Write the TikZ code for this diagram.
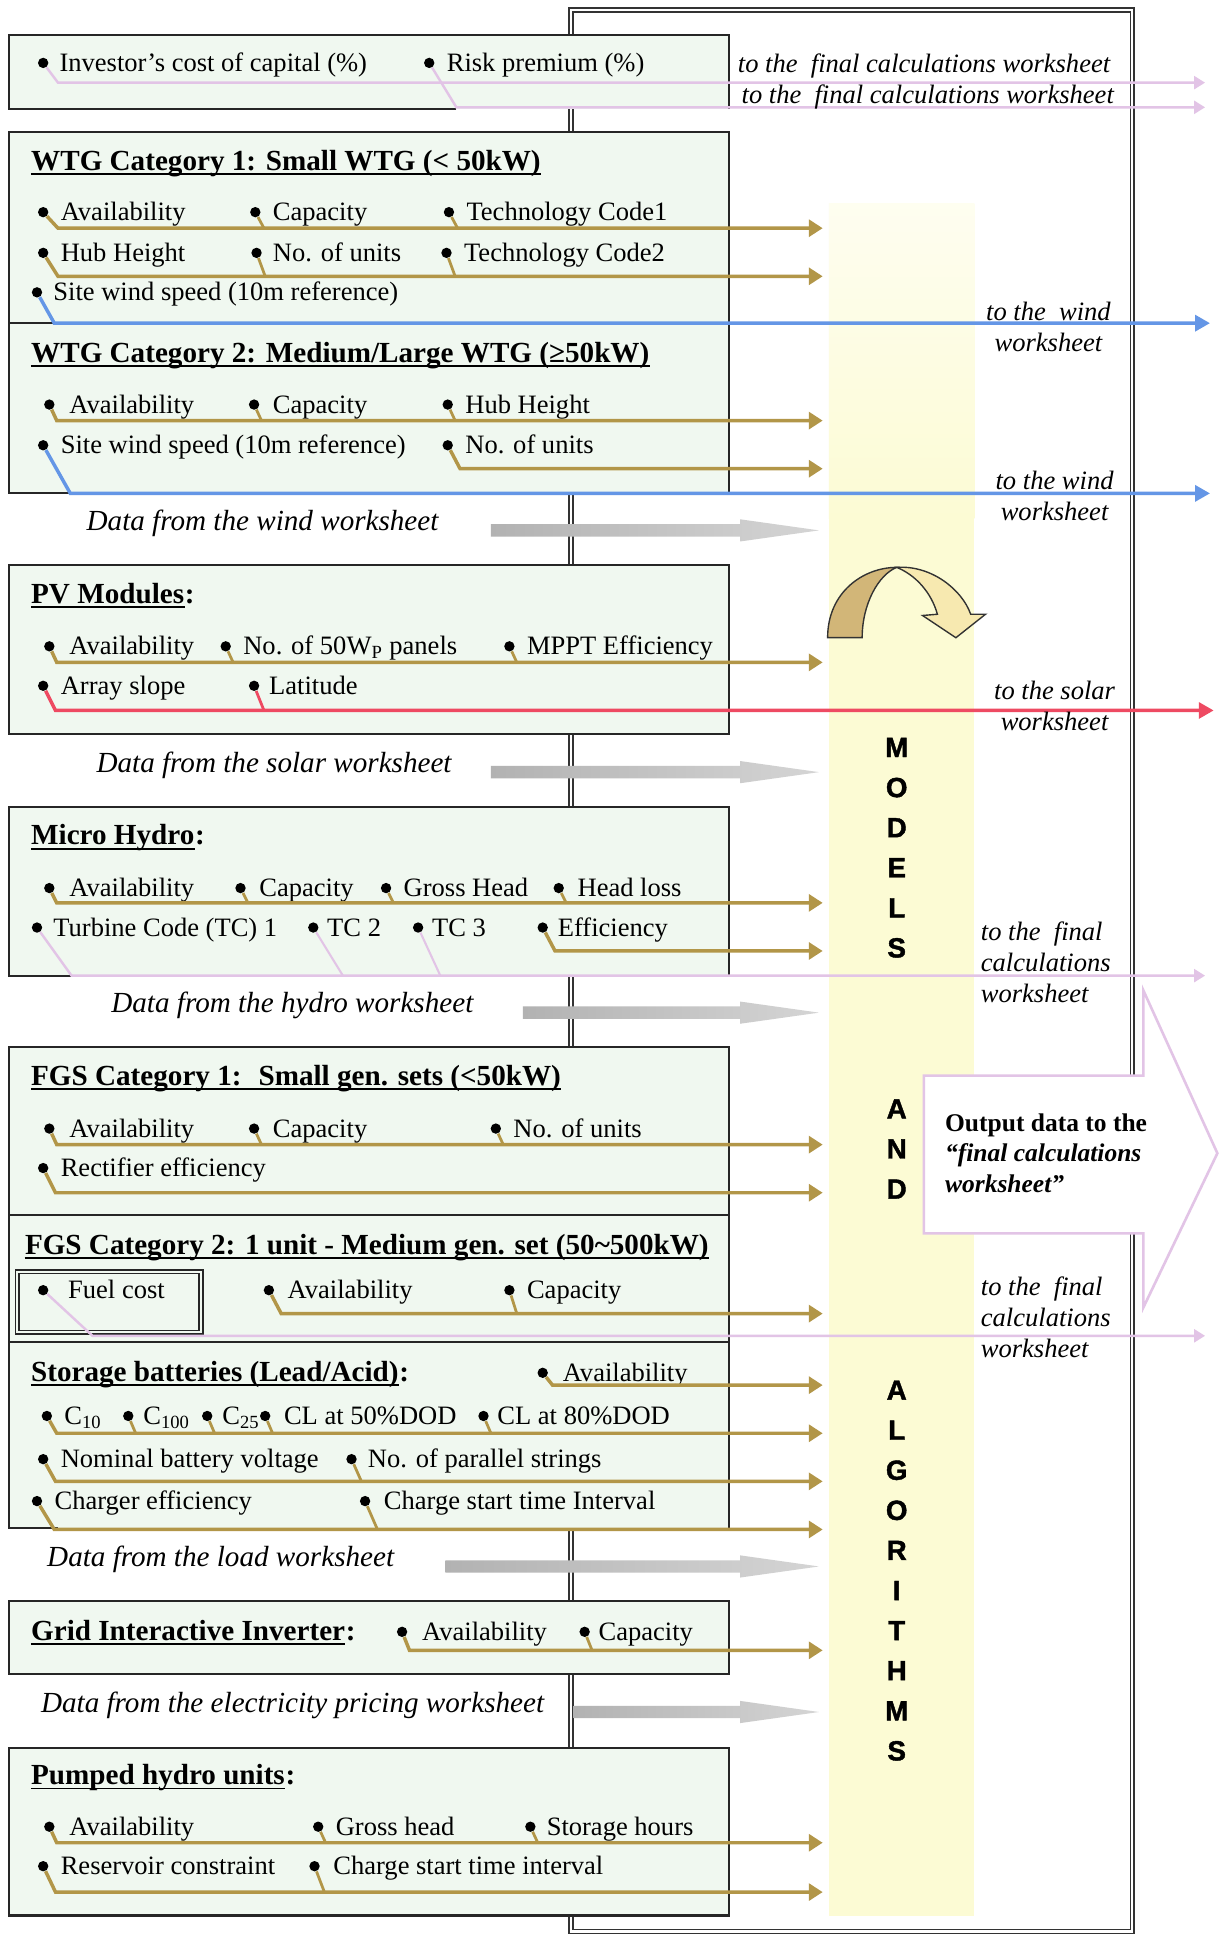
\documentclass[tikz,border=0pt]{standalone}
\usepackage{fontspec}
\setmainfont{Liberation Serif}
\newfontfamily\blockfont[FakeBold=1.5]{Liberation Sans}
\usetikzlibrary{arrows.meta,calc,positioning}

\definecolor{panelfill}{RGB}{240,248,240}
\definecolor{feedgold}{RGB}{178,150,72}
\definecolor{windblue}{RGB}{100,150,230}
\definecolor{solarred}{RGB}{238,74,98}
\definecolor{finalpink}{RGB}{226,196,230}
\definecolor{modelband}{RGB}{252,251,212}
\definecolor{arrowgrey}{RGB}{178,178,178}
\definecolor{uturnback}{RGB}{210,182,120}
\definecolor{uturnfront}{RGB}{247,233,176}

\tikzset{
    panelline/.style={draw=black!85, line width=1.2pt},
    frameline/.style={draw=black!80, line width=0.9pt, double=white, double distance=1.3pt},
    fuelbox/.style={draw=black!85, line width=0.9pt, double=panelfill, double distance=1.2pt},
    bulletdot/.style={circle, fill=black, inner sep=0pt, minimum size=2.1mm},
    itemtext/.style={anchor=base west, inner sep=0pt, font=\fontsize{15.3}{18}\selectfont},
    titletext/.style={anchor=base west, inner sep=0pt, font=\fontsize{16.8}{20}\selectfont\bfseries},
    sourcetext/.style={anchor=base west, inner sep=0pt, font=\fontsize{16.8}{20}\selectfont\itshape},
    targettext/.style={inner sep=0pt, align=center, font=\fontsize{15.3}{17.8}\selectfont\itshape},
    outtext/.style={anchor=west, inner sep=0pt, align=left, font=\fontsize{14.7}{17.8}\selectfont\bfseries},
    bandletter/.style={inner sep=0pt, font=\blockfont\bfseries\fontsize{16}{16}\selectfont},
    goldfeed/.style={draw=feedgold, line width=2pt, -{Triangle[length=2.8mm,width=3.4mm]}},
    goldlead/.style={draw=feedgold, line width=1.6pt},
    bluefeed/.style={draw=windblue, line width=2pt, -{Triangle[length=3mm,width=3.2mm]}},
    redfeed/.style={draw=solarred, line width=2pt, -{Triangle[length=3mm,width=3.2mm]}},
    redlead/.style={draw=solarred, line width=1.6pt},
    pinkfeed/.style={draw=finalpink, line width=1.4pt, -{Triangle[length=2.2mm,width=2.6mm]}},
    pinklead/.style={draw=finalpink, line width=1.2pt},
}

% bullet plus its label: name, bullet x, text x, y, text
\newcommand\DATAITEM[5]{
    \pgfmathsetmacro{\ybase}{#4+7}
    \node[bulletdot] (#1) at (#2,#4) {};
    \node[itemtext] (#1_text) at (#3,\ybase) {#5};
}

% underlined panel heading, with an optional tail that is not underlined
\newcommand\PANELTITLE[5]{
    \pgfmathsetmacro{\ybase}{#3+7}
    \node[titletext] (#1) at (#2,\ybase) {#4};
    \draw[line width=1.1pt] ($(#1.base west)+(0,3)$) -- ($(#1.base east)+(0,3)$);
    \node[titletext] (#1_tail) at (#1.base east) {#5};
}

% italic source label with its grey block arrow
\newcommand\SOURCE[5]{
    \pgfmathsetmacro{\ybase}{#3+7}
    \node[sourcetext] (#1) at (#2,\ybase) {#5};
    \shade[left color=arrowgrey, right color=arrowgrey!55]
        (#4,\ybase-5) -- (600,\ybase-5) -- (600,\ybase-9) -- (664,\ybase)
        -- (600,\ybase+9) -- (600,\ybase+5) -- (#4,\ybase+5) -- cycle;
}

% feed line: style, first bullet, foot shift, line y, end x
\newcommand\FEED[5]{
    \coordinate (#2_end) at (#5,#4);
    \draw[#1] (#2) -- ($(#2 |- #2_end)+(#3,0)$) -- (#2_end);
}
% extra leader down onto a feed line
\newcommand\LEAD[4]{
    \draw[#1] (#2) -- ($(#2 |- #3)+(#4,0)$);
}

\begin{document}
\begin{tikzpicture}[x=0.025cm, y=-0.025cm]
    \useasboundingbox (0,0) rectangle (992,1568);
    \fill[white] (0,0) rectangle (992,1568);

    % models band and outer frame
    \shade[top color=modelband!35, bottom color=modelband] (672,165) rectangle (790,420);
    \fill[modelband] (672,420) rectangle (790,1553);
    \draw[frameline] (463,8) rectangle (918,1566);

    % panels
    \fill[panelfill] (7,28) rectangle (591,88);
    \draw[panelline] (370,88) -| (7,28) -| (591,88);

    \fill[panelfill] (7,107) rectangle (591,400);
    \draw[panelline] (57,400) -| (7,107) -| (591,400);
    \draw[panelline] (7,262) -- (44,262);

    \fill[panelfill] (7,458) rectangle (591,595);
    \draw[panelline] (7,458) rectangle (591,595);

    \fill[panelfill] (7,654) rectangle (591,791);
    \draw[panelline] (58,791) -| (7,654) -| (591,791);

    \fill[panelfill] (7,849) rectangle (591,1239);
    \draw[panelline] (47,1239) -| (7,849) -| (591,1239);
    \draw[panelline] (7,985) -- (591,985);
    \draw[panelline] (7,1088) -- (591,1088);
    \draw[fuelbox] (14,1031) rectangle (163,1080);

    \fill[panelfill] (7,1298) rectangle (591,1357);
    \draw[panelline] (7,1298) rectangle (591,1357);

    \fill[panelfill] (7,1417) rectangle (591,1553);
    \draw[panelline] (7,1417) rectangle (591,1553);

    % output arrow
    \draw[fill=white, draw=finalpink, line width=1.5pt]
        (749,872) -- (927,872) -- (927,803) -- (987,935) -- (927,1060)
        -- (927,1000) -- (749,1000) -- cycle;
    \node[outtext] (output) at (766,935)
        {Output data to the\\\textit{“final calculations}\\\textit{worksheet”}};

    % u-turn arrow
    \filldraw[fill=uturnback, draw=black!80, line width=0.8pt]
        (671,517) .. controls (671,480) and (700,460) .. (727,460)
        .. controls (712,466) and (699,490) .. (699,517) -- cycle;
    \filldraw[fill=uturnfront, draw=black!80, line width=0.8pt]
        (727,460) .. controls (755,458) and (780,478) .. (787,498)
        -- (799,498) -- (775,517) -- (748,499) -- (760,498)
        .. controls (755,480) and (742,466) .. (727,460) -- cycle;

    % MODELS AND ALGORITHMS
    \foreach \ch [count=\k] in {M,O,D,E,L,S} {
        \pgfmathsetmacro\yy{606+32.5*(\k-1)}
        \node[bandletter] (models\k) at (727,\yy) {\ch};
    }
    \foreach \ch [count=\k] in {A,N,D} {
        \pgfmathsetmacro\yy{899+32.5*(\k-1)}
        \node[bandletter] (and\k) at (727,\yy) {\ch};
    }
    \foreach \ch [count=\k] in {A,L,G,O,R,I,T,H,M,S} {
        \pgfmathsetmacro\yy{1127+32.5*(\k-1)}
        \node[bandletter] (algo\k) at (727,\yy) {\ch};
    }

    % headings
    \PANELTITLE{wtgone}{25}{131}{WTG Category 1: Small WTG (< 50kW)}{}
    \PANELTITLE{wtgtwo}{25}{287}{WTG Category 2: Medium/Large WTG (≥50kW)}{}
    \PANELTITLE{pv}{25}{482}{PV Modules}{:}
    \PANELTITLE{hydro}{25}{678}{Micro Hydro}{:}
    \PANELTITLE{fgsone}{25}{873}{FGS Category 1:~ Small gen. sets (<50kW)}{}
    \PANELTITLE{fgstwo}{20}{1010}{FGS Category 2: 1 unit - Medium gen. set (50\textasciitilde500kW)}{}
    \PANELTITLE{battery}{25}{1113}{Storage batteries (Lead/Acid)}{:}
    \PANELTITLE{grid}{25}{1323}{Grid Interactive Inverter}{:}
    \PANELTITLE{pumped}{25}{1440}{Pumped hydro units}{:}

    % input data
    \DATAITEM{inv}{35}{48}{51}{Investor’s cost of capital (\%)}
    \DATAITEM{risk}{348}{362}{51}{Risk premium (\%)}

    \DATAITEM{w1a}{35}{49}{172}{Availability}
    \DATAITEM{w1b}{207}{221}{172}{Capacity}
    \DATAITEM{w1c}{364}{378}{172}{Technology Code1}
    \DATAITEM{w1d}{35}{49}{205}{Hub Height}
    \DATAITEM{w1e}{208}{221}{205}{No. of units}
    \DATAITEM{w1f}{362}{376}{205}{Technology Code2}
    \DATAITEM{w1g}{30}{43}{237}{Site wind speed (10m reference)}

    \DATAITEM{w2a}{40}{56}{328}{Availability}
    \DATAITEM{w2b}{206}{221}{328}{Capacity}
    \DATAITEM{w2c}{363}{377}{328}{Hub Height}
    \DATAITEM{w2d}{35}{49}{361}{Site wind speed (10m reference)}
    \DATAITEM{w2e}{363}{377}{361}{No. of units}

    \DATAITEM{pv1}{40}{56}{524}{Availability}
    \DATAITEM{pv2}{183}{197}{524}{No. of 50W\textsubscript{P} panels}
    \DATAITEM{pv3}{413}{427}{524}{MPPT Efficiency}
    \DATAITEM{pv4}{35}{49}{556}{Array slope}
    \DATAITEM{pv5}{206}{218}{556}{Latitude}

    \DATAITEM{hy1}{40}{56}{720}{Availability}
    \DATAITEM{hy2}{195}{210}{720}{Capacity}
    \DATAITEM{hy3}{313}{327}{720}{Gross Head}
    \DATAITEM{hy4}{453}{468}{720}{Head loss}
    \DATAITEM{hy5}{30}{43}{752}{Turbine Code (TC) 1}
    \DATAITEM{hy6}{254}{265}{752}{TC 2}
    \DATAITEM{hy7}{339}{350}{752}{TC 3}
    \DATAITEM{hy8}{440}{452}{752}{Efficiency}

    \DATAITEM{fg1}{40}{56}{915}{Availability}
    \DATAITEM{fg2}{206}{221}{915}{Capacity}
    \DATAITEM{fg3}{402}{416}{915}{No. of units}
    \DATAITEM{fg4}{35}{49}{947}{Rectifier efficiency}
    \DATAITEM{fg5}{35}{55}{1046}{Fuel cost}
    \DATAITEM{fg6}{218}{233}{1046}{Availability}
    \DATAITEM{fg7}{413}{427}{1046}{Capacity}

    \DATAITEM{sb1}{440}{456}{1113}{Availability}
    \DATAITEM{sb2}{38}{52}{1148}{C\textsubscript{10}}
    \DATAITEM{sb3}{104}{116}{1148}{C\textsubscript{100}}
    \DATAITEM{sb4}{168}{180}{1148}{C\textsubscript{25}}
    \DATAITEM{sb5}{215}{230}{1148}{CL at 50\%DOD}
    \DATAITEM{sb6}{392}{403}{1148}{CL at 80\%DOD}
    \DATAITEM{sb7}{35}{49}{1183}{Nominal battery voltage}
    \DATAITEM{sb8}{285}{298}{1183}{No. of parallel strings}
    \DATAITEM{sb9}{30}{44}{1217}{Charger efficiency}
    \DATAITEM{sb10}{296}{311}{1217}{Charge start time Interval}

    \DATAITEM{gi1}{326}{342}{1323}{Availability}
    \DATAITEM{gi2}{474}{485}{1323}{Capacity}

    \DATAITEM{ph1}{40}{56}{1481}{Availability}
    \DATAITEM{ph2}{258}{272}{1481}{Gross head}
    \DATAITEM{ph3}{430}{443}{1481}{Storage hours}
    \DATAITEM{ph4}{35}{49}{1513}{Reservoir constraint}
    \DATAITEM{ph5}{255}{270}{1513}{Charge start time interval}

    % worksheets feeding in
    \SOURCE{windsrc}{70}{423}{398}{Data from the wind worksheet}
    \SOURCE{solarsrc}{78}{619}{398}{Data from the solar worksheet}
    \SOURCE{hydrosrc}{90}{814}{424}{Data from the hydro worksheet}
    \SOURCE{loadsrc}{38}{1263}{361}{Data from the load worksheet}
    \SOURCE{pricesrc}{33}{1381}{465}{Data from the electricity pricing worksheet}

    % feeds into the models
    \FEED{goldfeed}{w1a}{12}{185}{667}
    \foreach \b in {w1b,w1c} {\LEAD{goldlead}{\b}{w1a_end}{7}}
    \FEED{goldfeed}{w1d}{12}{224}{667}
    \foreach \b in {w1e,w1f} {\LEAD{goldlead}{\b}{w1d_end}{7}}
    \FEED{goldfeed}{w2a}{6}{341}{667}
    \foreach \b in {w2b,w2c} {\LEAD{goldlead}{\b}{w2a_end}{6}}
    \FEED{goldfeed}{w2e}{10}{380}{667}
    \FEED{goldfeed}{pv1}{6}{537}{667}
    \foreach \b in {pv2,pv3} {\LEAD{goldlead}{\b}{pv1_end}{6}}
    \FEED{goldfeed}{hy1}{6}{732}{667}
    \foreach \b in {hy2,hy3,hy4} {\LEAD{goldlead}{\b}{hy1_end}{6}}
    \FEED{goldfeed}{hy8}{10}{771}{667}
    \FEED{goldfeed}{fg1}{6}{928}{667}
    \foreach \b in {fg2,fg3} {\LEAD{goldlead}{\b}{fg1_end}{6}}
    \FEED{goldfeed}{fg4}{10}{967}{667}
    \FEED{goldfeed}{fg6}{10}{1065}{667}
    \LEAD{goldlead}{fg7}{fg6_end}{6}
    \FEED{goldfeed}{sb1}{8}{1123}{667}
    \FEED{goldfeed}{sb2}{8}{1162}{667}
    \foreach \b in {sb3,sb4,sb5,sb6} {\LEAD{goldlead}{\b}{sb2_end}{6}}
    \FEED{goldfeed}{sb7}{10}{1201}{667}
    \LEAD{goldlead}{sb8}{sb7_end}{8}
    \FEED{goldfeed}{sb9}{14}{1240}{667}
    \LEAD{goldlead}{sb10}{sb9_end}{10}
    \FEED{goldfeed}{gi1}{6}{1338}{667}
    \LEAD{goldlead}{gi2}{gi1_end}{6}
    \FEED{goldfeed}{ph1}{6}{1494}{667}
    \foreach \b in {ph2,ph3} {\LEAD{goldlead}{\b}{ph1_end}{6}}
    \FEED{goldfeed}{ph4}{10}{1534}{667}
    \LEAD{goldlead}{ph5}{ph4_end}{8}

    % feeds out to the other worksheets
    \FEED{pinkfeed}{inv}{12}{67}{977}
    \FEED{pinkfeed}{risk}{22}{87}{977}
    \FEED{bluefeed}{w1g}{14}{262}{981}
    \FEED{bluefeed}{w2d}{22}{400}{981}
    \FEED{redfeed}{pv4}{10}{576}{984}
    \LEAD{redlead}{pv5}{pv4_end}{8}
    \FEED{pinkfeed}{hy5}{28}{791}{977}
    \LEAD{pinklead}{hy6}{hy5_end}{24}
    \LEAD{pinklead}{hy7}{hy5_end}{18}
    \FEED{pinkfeed}{fg5}{40}{1083}{977}

    % destination labels
    \node[itemtext, font=\fontsize{15.3}{18}\selectfont\itshape] (finaltop1) at (598,59)
        {to the~ final calculations worksheet};
    \node[itemtext, font=\fontsize{15.3}{18}\selectfont\itshape] (finaltop2) at (601,84)
        {to the~ final calculations worksheet};
    \node[targettext] (windlabel1) at (850,265) {to the~ wind\\worksheet};
    \node[targettext] (windlabel2) at (855,402) {to the wind\\worksheet};
    \node[targettext] (solarlabel) at (855,572) {to the solar\\worksheet};
    \node[targettext, anchor=west, align=left] (finallabel1) at (795,780)
        {to the~ final\\calculations\\worksheet};
    \node[targettext, anchor=west, align=left] (finallabel2) at (795,1068)
        {to the~ final\\calculations\\worksheet};
\end{tikzpicture}
\end{document}
